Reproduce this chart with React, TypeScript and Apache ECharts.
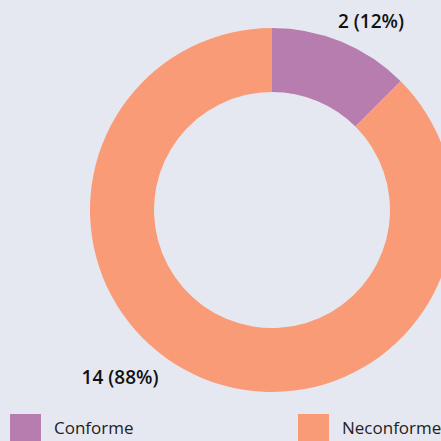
import React, { useEffect, useRef } from "react";
import * as echarts from "echarts";

const categories = ["Conforme", "Neconforme"];
const values = [2, 14];
const colors = ["#b77daf", "#f99b76"];
const labelPos = [
  [371, 21],
  [120, 377],
];

function roundHalfEven(x: number) {
  const f = Math.floor(x);
  const d = x - f;
  if (Math.abs(d - 0.5) < 1e-9) return f % 2 === 0 ? f : f + 1;
  return Math.round(x);
}

export default function App() {
  const ref = useRef<HTMLDivElement>(null);
  useEffect(() => {
    const chart = echarts.init(ref.current!, null, { renderer: "svg" });
    const total = values.reduce((a, b) => a + b, 0);
    const legendText = {
      fontSize: 17,
      color: "#222",
      padding: [10, 0, 0, 8],
      fontFamily: "Open Sans",
    };
    chart.setOption({
      animation: false,
      backgroundColor: "#e5e8f1",
      textStyle: { fontFamily: "Open Sans" },
      legend: [
        {
          data: [categories[0]],
          left: 5,
          top: 409,
          itemWidth: 31,
          itemHeight: 27,
          icon: "rect",
          textStyle: legendText,
        },
        {
          data: [categories[1]],
          left: 293,
          top: 409,
          itemWidth: 31,
          itemHeight: 27,
          icon: "rect",
          textStyle: legendText,
        },
      ],
      series: [
        {
          type: "pie",
          center: [272, 210],
          radius: [118, 182],
          startAngle: 90,
          clockwise: true,
          data: categories.map((c, i) => ({
            name: c,
            value: values[i],
            itemStyle: { color: colors[i] },
          })),
          label: {
            show: true,
            position: "outside",
            formatter: (p: any) => `${p.value} (${roundHalfEven((p.value / total) * 100)}%)`,
            fontSize: 19,
            fontWeight: 600,
            color: "#111",
            fontFamily: "Open Sans",
          },
          labelLine: { show: false, length: 20, length2: 0 },
          labelLayout: (params: any) => ({
            x: labelPos[params.dataIndex][0],
            y: labelPos[params.dataIndex][1],
            align: "center",
            verticalAlign: "middle",
          }),
        },
      ],
    });
    return () => chart.dispose();
  }, []);
  return <div ref={ref} style={{ width: 441, height: 441, position: "absolute", left: 0, top: 0 }} />;
}
